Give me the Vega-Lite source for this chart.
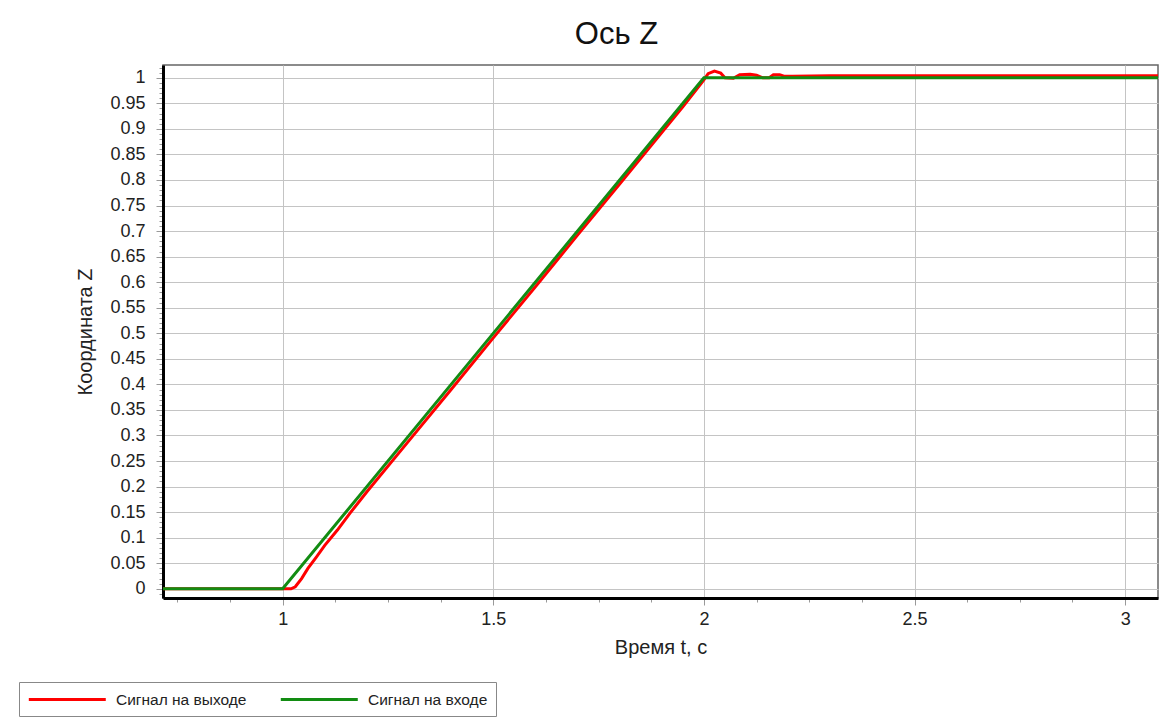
{
  "$schema": "https://vega.github.io/schema/vega-lite/v6.json",
  "width": 995,
  "height": 533,
  "autosize": {"type": "none"},
  "padding": {"left": 163, "top": 65, "right": 7, "bottom": 121},
  "background": "white",
  "title": {"text": "Ось Z", "font": "Liberation Sans", "fontSize": 31, "fontWeight": "normal", "color": "#111", "offset": 8, "dx": -44},
  "config": {
    "view": {"stroke": "#666", "strokeWidth": 1.5},
    "axis": {"labelFont": "Liberation Sans", "titleFont": "Liberation Sans", "labelColor": "#222", "titleColor": "#222", "titleFontWeight": "normal"}
  },
  "data": {"values": [
    {"t": 0.70, "z": 0, "series": "Сигнал на выходе"},
    {"t": 1.00, "z": 0, "series": "Сигнал на выходе"},
    {"t": 1.02, "z": 0, "series": "Сигнал на выходе"},
    {"t": 1.03, "z": 0.004, "series": "Сигнал на выходе"},
    {"t": 1.045, "z": 0.02, "series": "Сигнал на выходе"},
    {"t": 1.06, "z": 0.04, "series": "Сигнал на выходе"},
    {"t": 1.08, "z": 0.062, "series": "Сигнал на выходе"},
    {"t": 1.10, "z": 0.085, "series": "Сигнал на выходе"},
    {"t": 1.13, "z": 0.115, "series": "Сигнал на выходе"},
    {"t": 1.16, "z": 0.148, "series": "Сигнал на выходе"},
    {"t": 1.20, "z": 0.19, "series": "Сигнал на выходе"},
    {"t": 1.30, "z": 0.29, "series": "Сигнал на выходе"},
    {"t": 1.40, "z": 0.39, "series": "Сигнал на выходе"},
    {"t": 1.50, "z": 0.491, "series": "Сигнал на выходе"},
    {"t": 1.60, "z": 0.591, "series": "Сигнал на выходе"},
    {"t": 1.70, "z": 0.692, "series": "Сигнал на выходе"},
    {"t": 1.80, "z": 0.792, "series": "Сигнал на выходе"},
    {"t": 1.90, "z": 0.893, "series": "Сигнал на выходе"},
    {"t": 1.95, "z": 0.943, "series": "Сигнал на выходе"},
    {"t": 1.99, "z": 0.985, "series": "Сигнал на выходе"},
    {"t": 2.00, "z": 0.996, "series": "Сигнал на выходе"},
    {"t": 2.01, "z": 1.008, "series": "Сигнал на выходе"},
    {"t": 2.025, "z": 1.013, "series": "Сигнал на выходе"},
    {"t": 2.04, "z": 1.009, "series": "Сигнал на выходе"},
    {"t": 2.05, "z": 1.0, "series": "Сигнал на выходе"},
    {"t": 2.07, "z": 0.999, "series": "Сигнал на выходе"},
    {"t": 2.085, "z": 1.006, "series": "Сигнал на выходе"},
    {"t": 2.11, "z": 1.007, "series": "Сигнал на выходе"},
    {"t": 2.125, "z": 1.005, "series": "Сигнал на выходе"},
    {"t": 2.14, "z": 1.0, "series": "Сигнал на выходе"},
    {"t": 2.155, "z": 1.0, "series": "Сигнал на выходе"},
    {"t": 2.165, "z": 1.006, "series": "Сигнал на выходе"},
    {"t": 2.18, "z": 1.006, "series": "Сигнал на выходе"},
    {"t": 2.19, "z": 1.003, "series": "Сигнал на выходе"},
    {"t": 2.21, "z": 1.003, "series": "Сигнал на выходе"},
    {"t": 2.30, "z": 1.004, "series": "Сигнал на выходе"},
    {"t": 3.10, "z": 1.004, "series": "Сигнал на выходе"},
    {"t": 0.70, "z": 0, "series": "Сигнал на входе"},
    {"t": 1.00, "z": 0, "series": "Сигнал на входе"},
    {"t": 2.00, "z": 1, "series": "Сигнал на входе"},
    {"t": 3.10, "z": 1, "series": "Сигнал на входе"}
  ]},
  "encoding": {
    "x": {
      "field": "t", "type": "quantitative",
      "scale": {"domain": [0.716, 3.078], "nice": false, "zero": false},
      "axis": {
        "title": "Время t, с", "titleFontSize": 20, "titlePadding": 9,
        "values": [0.75, 0.875, 1, 1.125, 1.25, 1.375, 1.5, 1.625, 1.75, 1.875, 2, 2.125, 2.25, 2.375, 2.5, 2.625, 2.75, 2.875, 3],
        "labelExpr": "datum.value * 2 == round(datum.value * 2) ? format(datum.value, '~g') : ''",
        "labelFontSize": 18, "labelPadding": 5, "labelOverlap": false, "labelFlush": false,
        "domainColor": "#000", "domainWidth": 3,
        "tickColor": "#999", "tickWidth": 1,
        "tickSize": {"condition": {"test": "datum.value * 2 == round(datum.value * 2)", "value": 7}, "value": 4},
        "grid": true, "gridColor": "#c4c4c4", "gridWidth": 1,
        "gridOpacity": {"condition": {"test": "datum.value * 2 == round(datum.value * 2)", "value": 1}, "value": 0}
      }
    },
    "y": {
      "field": "z", "type": "quantitative",
      "scale": {"domain": [-0.018, 1.025], "nice": false, "zero": false},
      "axis": {
        "title": "Координата Z", "titleFontSize": 20, "titlePadding": 14,
        "values": [-0.01, 0, 0.01, 0.02, 0.03, 0.04, 0.05, 0.06, 0.07, 0.08, 0.09, 0.1, 0.11, 0.12, 0.13, 0.14, 0.15, 0.16, 0.17, 0.18, 0.19, 0.2, 0.21, 0.22, 0.23, 0.24, 0.25, 0.26, 0.27, 0.28, 0.29, 0.3, 0.31, 0.32, 0.33, 0.34, 0.35, 0.36, 0.37, 0.38, 0.39, 0.4, 0.41, 0.42, 0.43, 0.44, 0.45, 0.46, 0.47, 0.48, 0.49, 0.5, 0.51, 0.52, 0.53, 0.54, 0.55, 0.56, 0.57, 0.58, 0.59, 0.6, 0.61, 0.62, 0.63, 0.64, 0.65, 0.66, 0.67, 0.68, 0.69, 0.7, 0.71, 0.72, 0.73, 0.74, 0.75, 0.76, 0.77, 0.78, 0.79, 0.8, 0.81, 0.82, 0.83, 0.84, 0.85, 0.86, 0.87, 0.88, 0.89, 0.9, 0.91, 0.92, 0.93, 0.94, 0.95, 0.96, 0.97, 0.98, 0.99, 1, 1.01, 1.02],
        "labelExpr": "abs(round(datum.value * 100)) % 5 == 0 ? format(datum.value, '~g') : ''",
        "labelFontSize": 18, "labelPadding": 11, "labelOverlap": false, "labelFlush": false,
        "domainColor": "#000", "domainWidth": 3,
        "tickColor": "#999", "tickWidth": 1,
        "tickSize": {"condition": {"test": "abs(round(datum.value * 100)) % 5 == 0", "value": 7}, "value": 4},
        "grid": true, "gridColor": "#c4c4c4", "gridWidth": 1,
        "gridOpacity": {"condition": {"test": "abs(round(datum.value * 100)) % 5 == 0", "value": 1}, "value": 0}
      }
    },
    "color": {
      "field": "series", "type": "nominal",
      "scale": {"domain": ["Сигнал на выходе", "Сигнал на входе"], "range": ["#ff0000", "#128c12"]},
      "legend": {
        "title": null, "orient": "none", "direction": "horizontal",
        "legendX": -144, "legendY": 617,
        "symbolType": "M-1,0H9", "symbolSize": 237, "symbolStrokeWidth": 3,
        "labelFont": "Liberation Sans", "labelFontSize": 15.5, "labelColor": "#222", "labelOffset": 70, "labelLimit": 400,
        "columnPadding": 27, "padding": 8, "strokeColor": "#888", "fillColor": "white"
      }
    }
  },
  "layer": [
    {"transform": [{"filter": "datum.series == 'Сигнал на выходе'"}], "mark": {"type": "line", "strokeWidth": 3, "clip": true}},
    {"transform": [{"filter": "datum.series == 'Сигнал на входе'"}], "mark": {"type": "line", "strokeWidth": 3, "clip": true}}
  ]
}
